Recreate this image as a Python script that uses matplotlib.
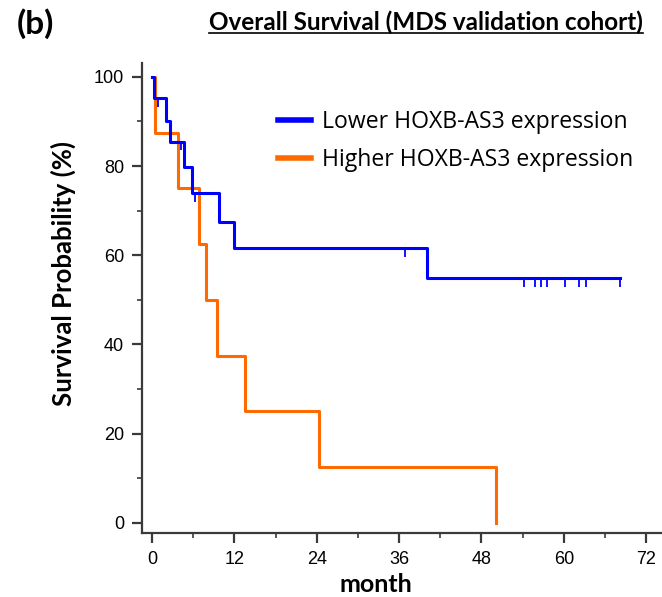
import numpy as np
import matplotlib
matplotlib.use("Agg")
import matplotlib.pyplot as plt
from matplotlib.lines import Line2D
from matplotlib.ticker import MultipleLocator

# --- datos (meses, % supervivencia) ---
low_times = [0, 0.3, 2.0, 2.6, 4.6, 5.8, 9.8, 11.9, 40.1]
low_surv = [100, 95.2, 90.2, 85.4, 79.7, 73.9, 67.5, 61.6, 54.8]
low_end = 68.2
low_cens_t = [0.9, 4.2, 6.2, 36.9, 54.2, 55.8, 56.7, 57.5, 60.2, 62.2, 63.2, 68.2]
low_cens_s = [95.2, 85.4, 73.9, 61.6, 54.8, 54.8, 54.8, 54.8, 54.8, 54.8, 54.8, 54.8]

high_times = [0, 0.4, 3.8, 6.9, 7.8, 9.5, 13.6, 24.3, 50.1]
high_surv = [100, 87.5, 75, 62.5, 50, 37.5, 25, 12.5, 0]

labels = ["Lower HOXB-AS3 expression", "Higher HOXB-AS3 expression"]
BLUE = "#0000ff"
ORANGE = "#ff6a00"
GRAY = "#3a3a3a"

fig = plt.figure(figsize=(6.62, 5.97), dpi=100)
ax = fig.add_axes([142 / 662, 64 / 597, 520 / 662, 470 / 597])

ax.step(high_times, high_surv, where="post", color=ORANGE, lw=2.2, label=labels[1], zorder=2)
ax.step(low_times + [low_end], low_surv + [low_surv[-1]], where="post",
        color=BLUE, lw=2.2, label=labels[0], zorder=3)
ax.vlines(low_cens_t, np.array(low_cens_s) - 1.9, low_cens_s, color=BLUE, lw=1.3, zorder=3)

ax.set_xlim(-1.46, 74.3)
ax.set_ylim(-2.3, 103.1)
ax.xaxis.set_major_locator(MultipleLocator(12))
ax.xaxis.set_minor_locator(MultipleLocator(6))
ax.yaxis.set_major_locator(MultipleLocator(20))
ax.yaxis.set_minor_locator(MultipleLocator(10))

for s in ["top", "right"]:
    ax.spines[s].set_visible(False)
for s in ["left", "bottom"]:
    ax.spines[s].set_color(GRAY)
    ax.spines[s].set_linewidth(1.6)
ax.tick_params(which="major", length=7, width=1.6, color=GRAY, pad=6,
               labelsize=13, labelcolor="black")
ax.tick_params(which="minor", length=3.5, width=1.2, color=GRAY)
for t in ax.get_xticklabels() + ax.get_yticklabels():
    t.set_family("Liberation Sans")

fig.text(63 / 662, 1 - 273 / 597, "Survival Probability (%)", rotation=90,
         ha="center", va="center", fontsize=18.5, fontweight="bold", family="Lato")
fig.text(376 / 662, 1 - 584 / 597, "month", ha="center", va="center",
         fontsize=18, fontweight="bold", family="Lato")

fig.text(17 / 662, 1 - 24 / 597, "(b)", ha="left", va="center",
         fontsize=24, fontweight="bold", family="Lato")
title = fig.text(643 / 662, 1 - 22 / 597, "Overall Survival (MDS validation cohort)",
                 ha="right", va="center", fontsize=17.5, fontweight="bold", family="Lato")

h, l = ax.get_legend_handles_labels()
order = [1, 0]
leg = ax.legend([h[i] for i in order], [l[i] for i in order], loc="upper left",
                bbox_to_anchor=(257 / 662, 1 - 89 / 597), bbox_transform=fig.transFigure,
                frameon=False, handlelength=1.45, handletextpad=0.45,
                labelspacing=0.62, prop={"family": "Open Sans", "size": 16.6})
for line in leg.get_lines():
    line.set_linewidth(4)

# subrayado del titulo
fig.canvas.draw()
bb = title.get_window_extent().transformed(fig.transFigure.inverted())
fig.add_artist(Line2D([bb.x0, bb.x1], [1 - 33 / 597] * 2, color="black", lw=1.2,
                      transform=fig.transFigure))

fig.savefig("out.png", dpi=100)
